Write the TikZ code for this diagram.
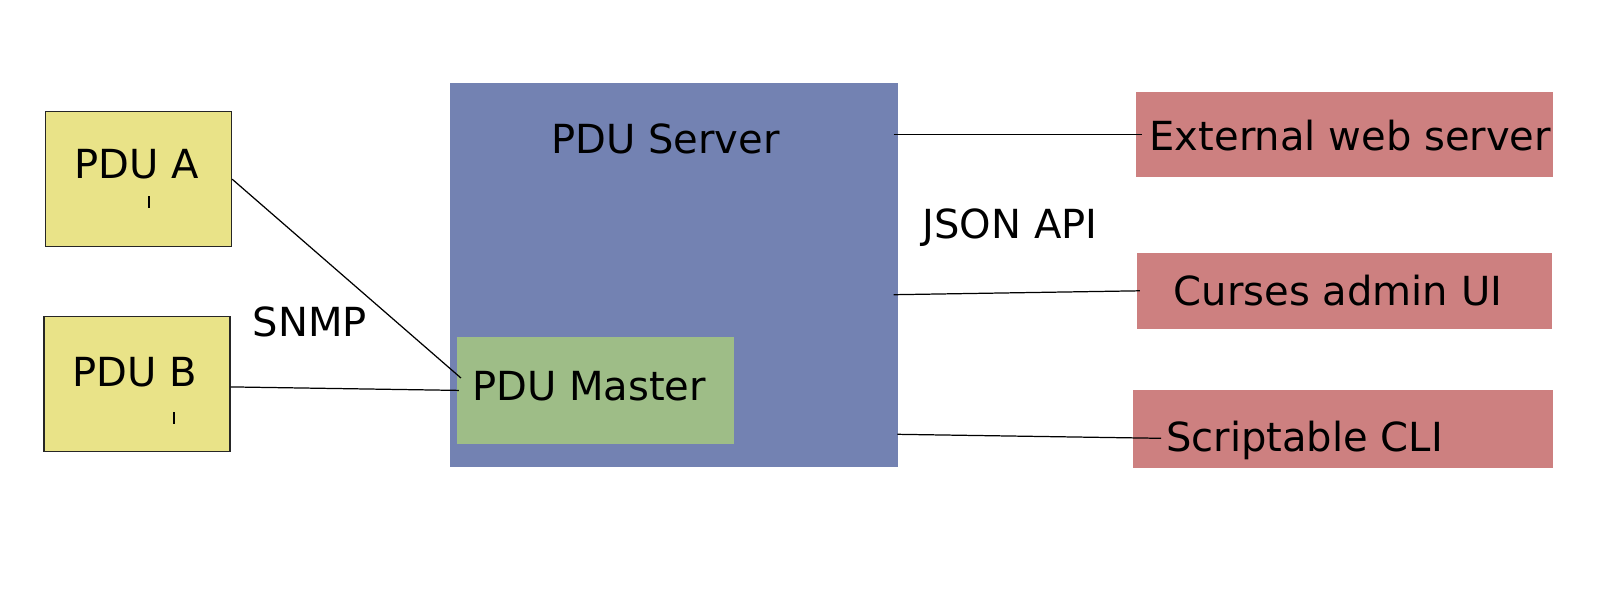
\documentclass[tikz,border=0pt]{standalone}
\usepackage{fontspec}
\setmainfont{DejaVu Sans}
\usepackage{xcolor}
\usepackage{tikz}
\usetikzlibrary{positioning, calc}
\definecolor{pduyellow}{RGB}{233, 227, 136}
\definecolor{serverblue}{RGB}{115, 130, 178}
\definecolor{mastergreen}{RGB}{158, 189, 135}
\definecolor{clientred}{RGB}{205, 128, 128}
\newcommand{\diagfont}{\fontsize{11.4}{13.7}\selectfont}
\tikzstyle{pdu} = [
    rectangle,
    minimum width=1.86cm,
    minimum height=1.35cm,
    draw=black!85,
    line width=0.35pt,
    fill=pduyellow
]
\tikzstyle{client} = [
    rectangle,
    minimum width=4.17cm,
    fill=clientred
]
\tikzstyle{caption} = [
    anchor=base,
    inner sep=0pt,
    font=\diagfont
]
\tikzstyle{link} = [
    line width=0.35pt,
    color=black
]

\begin{document}
\begin{tikzpicture}
        \useasboundingbox (0, 0) rectangle (16, -6);

        % PDUs
        \node[pdu] (pduA) at (1.386, -1.792) {};
        \node[caption] (pduAtxt) at (1.367, -1.783) {PDU A};
        \node[pdu] (pduB) at (1.37, -3.839) {};
        \node[caption] (pduBtxt) at (1.35, -3.867) {PDU B};
        \draw[link] (1.49, -1.96) -- (1.49, -2.08);
        \draw[link] (1.74, -4.12) -- (1.74, -4.24);

        % Server
        \node[rectangle, fill=serverblue, minimum width=4.48cm, minimum height=3.84cm] (server) at (6.74, -2.75) {};
        \node[caption] (servertxt) at (6.653, -1.533) {PDU Server};

        % Master
        \node[rectangle, fill=mastergreen, minimum width=2.773cm, minimum height=1.073cm] (master) at (5.953, -3.904) {};
        \node[caption] (mastertxt) at (5.89, -4.0) {PDU Master};

        % Clients
        \node[client, minimum height=0.85cm] (extweb) at (13.445, -1.342) {};
        \node[caption] (extwebtxt) at (13.503, -1.5) {External web server};
        \node[client, minimum width=4.155cm, minimum height=0.755cm] (curses) at (13.443, -2.908) {};
        \node[caption] (cursestxt) at (13.38, -3.05) {Curses admin UI};
        \node[client, minimum width=4.2cm, minimum height=0.78cm] (cli) at (13.43, -4.29) {};
        \node[caption] (clitxt) at (13.045, -4.517) {Scriptable CLI};

        % Protocols
        \node[caption] (snmp) at (3.1, -3.367) {SNMP};
        \node[caption] (json) at (10.1, -2.383) {JSON API};

        % Links
        \draw[link] (pduA.east) -- ([xshift=0.05cm, yshift=0.124cm]master.west);
        \draw[link] ([yshift=-0.03cm]pduB.east) -- ([xshift=0.03cm]master.west);
        \draw[link] ([xshift=-0.05cm]server.east |- extweb.west) -- ([xshift=0.07cm]extweb.west);
        \draw[link] ([xshift=-0.05cm, yshift=-0.197cm]server.east) -- ([xshift=0.04cm]curses.west);
        \draw[link] ([xshift=-0.013cm, yshift=-1.593cm]server.east) -- ([xshift=0.287cm, yshift=-0.093cm]cli.west);
    \end{tikzpicture}
\end{document}
